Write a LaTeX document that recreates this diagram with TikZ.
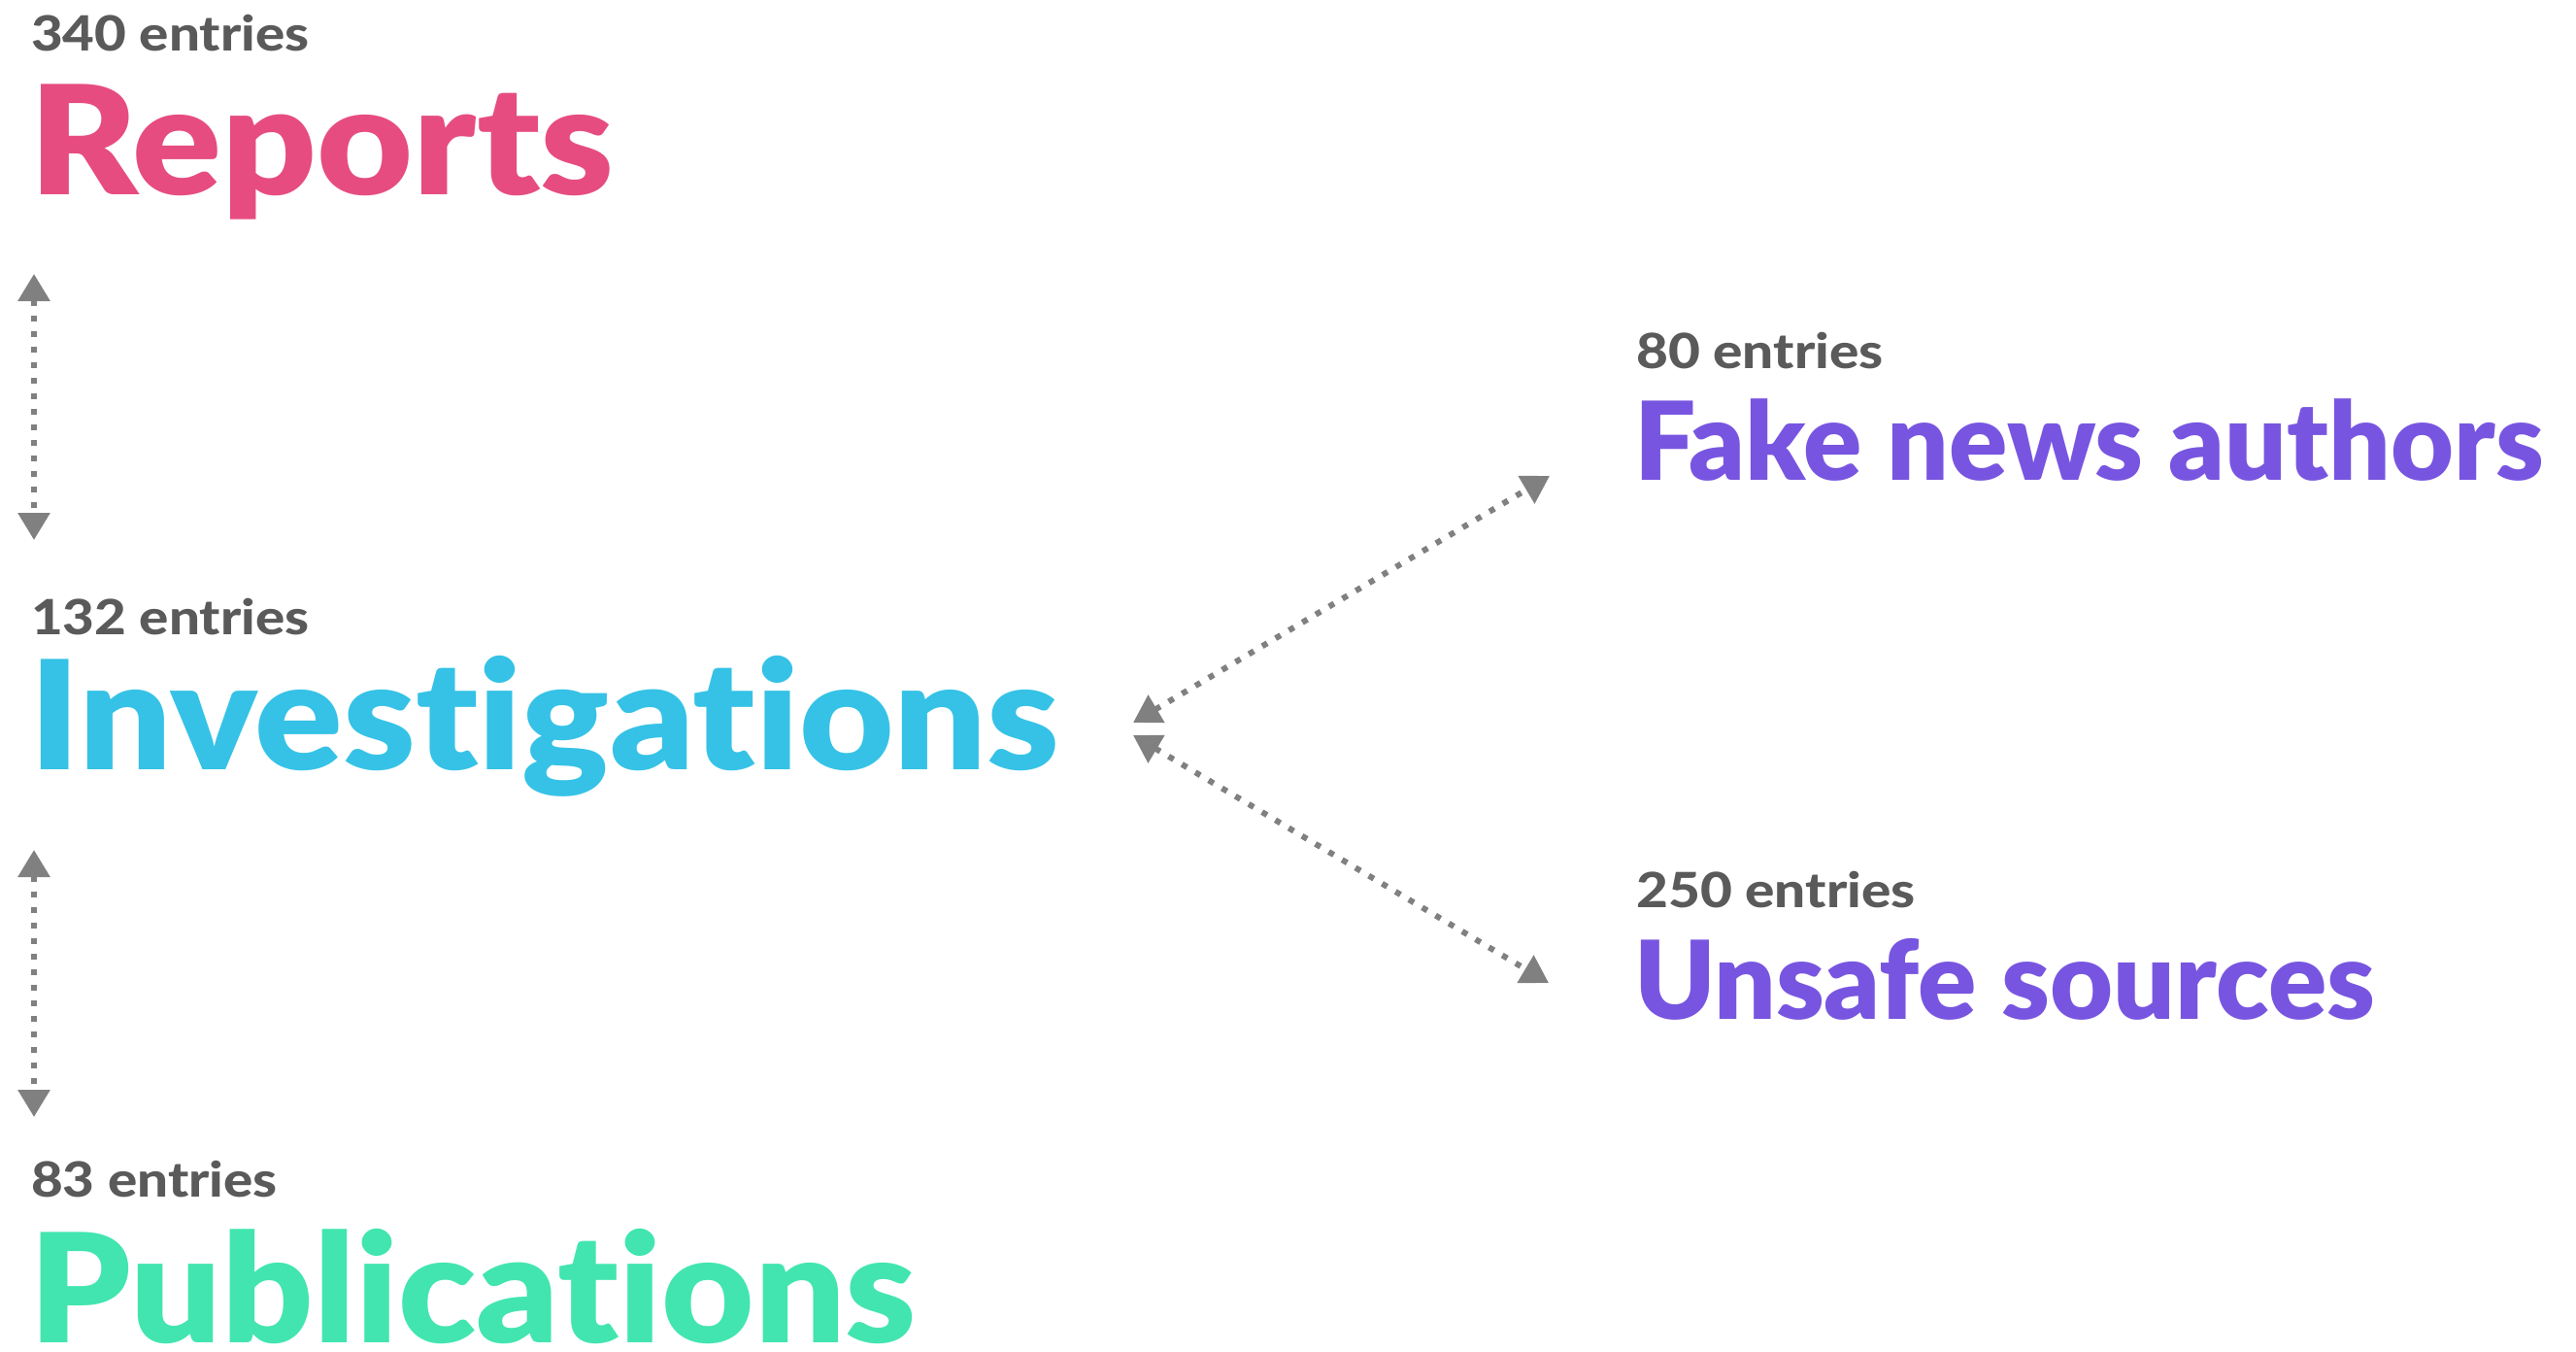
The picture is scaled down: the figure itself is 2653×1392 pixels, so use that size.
\documentclass[tikz,border=0pt]{standalone}
\usepackage{fontspec}
\setmainfont{Lato}[Ligatures=NoCommon]
\IfFontExistsTF{Lato Black}
  {\newfontfamily\titlefont{Lato Black}[Ligatures=NoCommon]}
  {\newfontfamily\titlefont{Lato}[Ligatures=NoCommon,UprightFont=*-Bold,FakeBold=1.5]}
\IfFontExistsTF{Lato Heavy}
  {\newfontfamily\countfont{Lato Heavy}[Ligatures=NoCommon]}
  {\newfontfamily\countfont{Lato}[Ligatures=NoCommon,UprightFont=*-Bold]}
\usetikzlibrary{arrows.meta}
\newcommand\hstretch[2]{\scalebox{#1}[1]{#2}}
\definecolor{cpink}{HTML}{E64C7F}
\definecolor{ccyan}{HTML}{35C2E6}
\definecolor{cgreen}{HTML}{42E5AF}
\definecolor{cpurple}{HTML}{7855E0}
\definecolor{cgray}{HTML}{5A5A5A}
\definecolor{carrow}{HTML}{808080}
\begin{document}
\begin{tikzpicture}[x=1pt,y=-1pt,
  count/.style={anchor=base west, inner sep=0pt, text=cgray, font=\countfont\fontsize{50}{50}\selectfont},
  bigtitle/.style={anchor=base west, inner sep=0pt, font=\titlefont\fontsize{156}{156}\selectfont},
  midtitle/.style={anchor=base west, inner sep=0pt, font=\titlefont\fontsize{112}{112}\selectfont},
  link/.style={draw=carrow, line width=6pt, dash pattern=on 6pt off 10pt,
    {Triangle[width=32pt,length=28pt]}-{Triangle[width=32pt,length=28pt]}}
]
\useasboundingbox (0,0) rectangle (2653,1392);

\node[count] (repc) at (32,52) {\hstretch{1.13}{340 entries}};
\node[bigtitle, text=cpink] (rep) at (30,200) {\hstretch{1.094}{Reports}};

\node[count] (invc) at (32,653) {\hstretch{1.13}{132 entries}};
\node[bigtitle, text=ccyan] (inv) at (30,792) {\hstretch{1.078}{Investigations}};

\node[count] (pubc) at (32,1232) {\hstretch{1.13}{83 entries}};
\node[bigtitle, text=cgreen] (pub) at (30,1382) {\hstretch{1.055}{Publications}};

\node[count] (fakec) at (1685,379) {\hstretch{1.135}{80 entries}};
\node[midtitle, text=cpurple] (fake) at (1683,494) {Fake news authors};

\node[count] (unsc) at (1685,934) {\hstretch{1.135}{250 entries}};
\node[midtitle, text=cpurple] (uns) at (1683,1049) {Unsafe sources};

\coordinate (a1s) at (35,282);
\coordinate (a1e) at (35,556);
\coordinate (a2s) at (35,875);
\coordinate (a2e) at (35,1150);
\coordinate (d1s) at (1167,744);
\coordinate (d1e) at (1596,490);
\coordinate (d2s) at (1167,757);
\coordinate (d2e) at (1595,1012);

\draw[link] (a1s) -- (a1e);
\draw[link] (a2s) -- (a2e);
\draw[link] (d1s) -- (d1e);
\draw[link] (d2s) -- (d2e);
\end{tikzpicture}
\end{document}
